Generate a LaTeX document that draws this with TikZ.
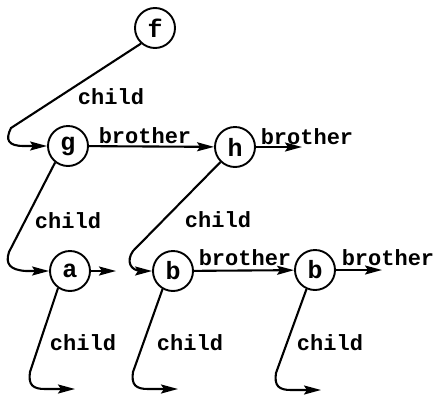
\documentclass[tikz,border=0pt]{standalone}
\usepackage{fontspec}
\setmonofont{Liberation Mono}
\usetikzlibrary{arrows.meta}
\begin{document}
\begin{tikzpicture}[x=1pt,y=-1pt,
  vertex/.style={circle,draw,line width=1.9pt,minimum size=40pt,inner sep=0pt,
    font=\ttfamily\bfseries\fontsize{25}{25}\selectfont},
  lbl/.style={font=\ttfamily\bfseries\fontsize{22}{22}\selectfont,inner sep=0pt},
  link/.style={line width=2.1pt,-{Stealth[length=17pt,width=9pt,inset=3pt]}},
]
\useasboundingbox (0,0) rectangle (437,397);
\node[vertex] (f) at (155,28) {f};
\node[vertex] (g) at (68,146) {g};
\node[vertex] (h) at (235,147) {h};
\node[vertex] (a) at (70,271) {a};
\node[vertex] (b1) at (173,271) {b};
\node[vertex] (b2) at (315,270) {b};
\coordinate (hend) at (302,147);
\coordinate (aright) at (116,271);
\coordinate (b2end) at (382,270);
\coordinate (aend) at (75,389);
\coordinate (b1end) at (178,389);
\coordinate (b2cend) at (321,390);
% child edges
\draw[link] (f.228) -- (11,128) .. controls (5,140) and (8,146) .. (24,146) -- (g.west);
\draw[link] (g.232) -- (9,252) .. controls (5,264) and (10,270) .. (26,271) -- (a.west);
\draw[link] (h.226) -- (133,251) .. controls (126,261) and (130,271) .. (142,271) -- (b1.west);
\draw[link] (a.235) -- (30,372) .. controls (28,385) and (33,389) .. (45,389) -- (aend);
\draw[link] (b1.240) -- (133,372) .. controls (131,385) and (136,389) .. (148,389) -- (b1end);
\draw[link] (b2.246) -- (276,373) .. controls (274,386) and (279,390) .. (291,390) -- (b2cend);
% brother edges
\draw[link] (g) -- (h);
\draw[link] (h) -- (hend);
\draw[link] (b1) -- (b2);
\draw[link] (b2) -- (b2end);
\draw[link] (a) -- (aright);
% labels
\node[lbl] at (111,97) {child};
\node[lbl] at (145,136) {brother};
\node[lbl] at (307,137) {brother};
\node[lbl] at (68,221) {child};
\node[lbl] at (218,220) {child};
\node[lbl] at (245,258) {brother};
\node[lbl] at (388,258) {brother};
\node[lbl] at (83,343) {child};
\node[lbl] at (190,343) {child};
\node[lbl] at (330,343) {child};
\end{tikzpicture}
\end{document}
